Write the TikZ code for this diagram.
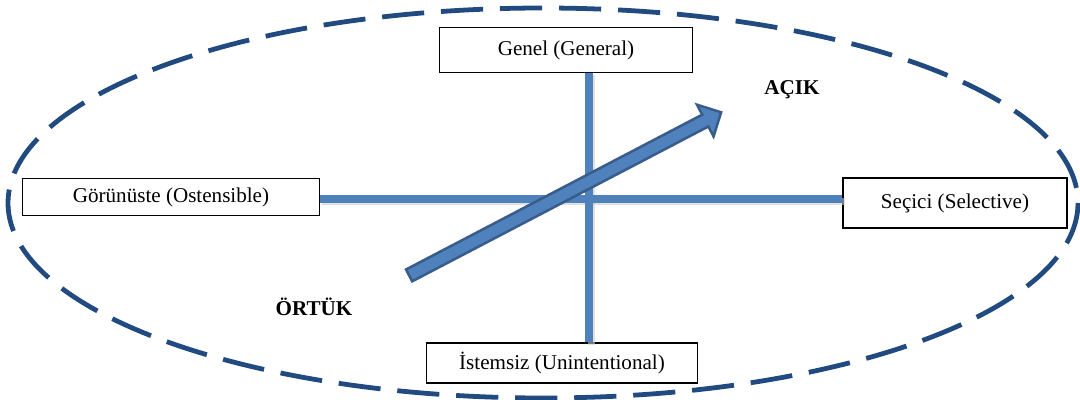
\documentclass[tikz,border=0pt]{standalone}
\usepackage{fontspec}
\setmainfont{Liberation Serif}
\usetikzlibrary{shapes.arrows}
\definecolor{cizgimavi}{RGB}{79,129,189}
\definecolor{koyumavi}{RGB}{56,93,138}
\definecolor{elipsmavi}{RGB}{33,74,128}
\tikzstyle{kutu}=[draw=black,line width=0.8pt,fill=white,inner sep=0pt,font=\fontsize{15}{18}\selectfont]
\tikzstyle{eksen}=[draw=cizgimavi,line width=5pt]
\tikzstyle{golge}=[draw=black!20,line width=5pt,opacity=0.6]
\tikzstyle{etiket}=[font=\fontsize{15}{18}\selectfont\bfseries]
\tikzstyle{okbox}=[single arrow,draw=koyumavi,fill=cizgimavi,line width=1.8pt,inner sep=0.135cm,single arrow head extend=0.28cm,minimum height=8.8cm,minimum width=0.82cm]

\begin{document}
\begin{tikzpicture}[x=0.025cm,y=-0.025cm]
    \useasboundingbox (0,0) rectangle (1080,400);

    % dashed frame
    \draw[elipsmavi,line width=3.4pt,dash pattern=on 30pt off 12pt] (543,203) ellipse [x radius=535, y radius=195];

    \coordinate (merkez) at (589,199);

    % the four poles
    \foreach \pos/\name/\w/\h/\txt in {{(566,50)/genel/6.33/1.13/Genel (General)},
                                      {(171,197)/gorunuste/7.43/0.93/Görünüste (Ostensible)},
                                      {(955,203)/secici/5.6/1.25/Seçici (Selective)},
                                      {(562,363)/istemsiz/6.78/1.0/İstemsiz (Unintentional)}}
        \node[kutu,minimum width=\w cm,minimum height=\h cm] (\name) at \pos {\txt};

    % axes
    \draw[golge,transform canvas={xshift=1.5pt,yshift=-1.5pt}] (gorunuste.east |- merkez) -- (secici.west |- merkez);
    \draw[golge,transform canvas={xshift=1.5pt,yshift=-1.5pt}] (genel.south -| merkez) -- (istemsiz.north -| merkez);
    \draw[eksen] (gorunuste.east |- merkez) -- (secici.west |- merkez);
    \draw[eksen] (genel.south -| merkez) -- (istemsiz.north -| merkez);

    % from implicit to explicit
    \coordinate (ortukuc) at (408,276);
    \node[okbox,anchor=tail,rotate=27.6] (ok) at (ortukuc) {};

    \node[etiket] (acik) at (792,90) {AÇIK};
    \node[etiket] (ortuk) at (314,307) {ÖRTÜK};
\end{tikzpicture}
\end{document}
